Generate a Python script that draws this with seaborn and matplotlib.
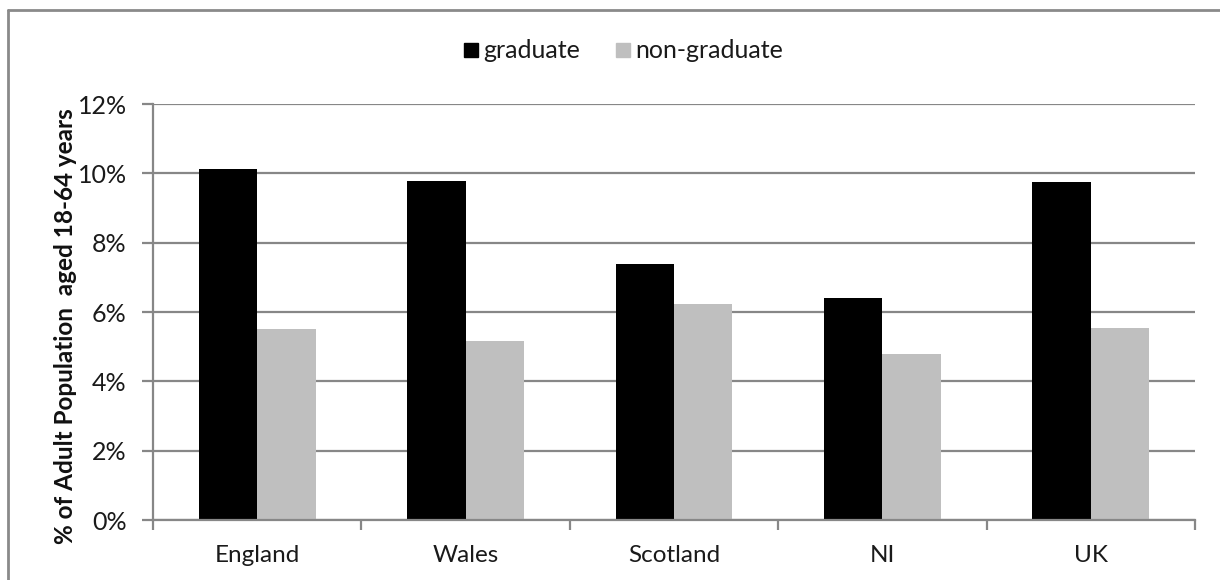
import pandas as pd
import seaborn as sns
import matplotlib.pyplot as plt
from matplotlib.lines import Line2D
from matplotlib.ticker import PercentFormatter, FixedLocator

# Data (% of adult population aged 18-64)
regions = ['England', 'Wales', 'Scotland', 'NI', 'UK']
graduate = [10.12, 9.79, 7.38, 6.39, 9.75]
non_graduate = [5.50, 5.16, 6.23, 4.79, 5.53]
groups = ['graduate', 'non-graduate']

df = pd.DataFrame({
    'region': regions * 2,
    'group': [groups[0]] * len(regions) + [groups[1]] * len(regions),
    'value': graduate + non_graduate,
})

sns.set_theme(style="white")
# Lato is close to Calibri in its proportions
plt.rcParams['font.family'] = ['Lato', 'DejaVu Sans']

grid_col = '#878787'
text_col = '#1a1a1a'
fig = plt.figure(figsize=(12.2, 5.8), dpi=100)
ax = fig.add_axes([153 / 1220, 1 - 520 / 580, (1195 - 153) / 1220, (520 - 104) / 580])

sns.barplot(data=df, x='region', y='value', hue='group', order=regions, hue_order=groups,
            palette=['#000000', '#bfbfbf'], width=0.56, gap=0, saturation=1,
            edgecolor='none', linewidth=0, legend=False, ax=ax)

ax.set_ylim(0, 12)
ax.set_xlim(-0.5, len(regions) - 0.5)
ax.set_yticks(range(0, 13, 2))
ax.yaxis.set_major_formatter(PercentFormatter(decimals=0))
ax.yaxis.grid(True, color=grid_col, linewidth=1.6)
ax.set_axisbelow(True)

# category boundary ticks on the x axis like Excel
ax.xaxis.set_minor_locator(FixedLocator([i - 0.5 for i in range(len(regions) + 1)]))
ax.tick_params(axis='x', which='major', length=0, pad=18, labelsize=17.5, labelcolor=text_col)
ax.tick_params(axis='x', which='minor', bottom=True, length=7, width=1.6, color=grid_col)
ax.tick_params(axis='y', left=True, length=8, width=1.6, color=grid_col, pad=11,
               labelsize=18, labelcolor=text_col)

for side in ['top', 'right']:
    ax.spines[side].set_visible(False)
for side in ['left', 'bottom']:
    ax.spines[side].set_color(grid_col)
    ax.spines[side].set_linewidth(1.6)

ax.set_xlabel('')
ax.set_ylabel('% of Adult Population  aged 18-64 years', fontsize=17.5, fontweight='bold',
              color='#111111')
ax.yaxis.set_label_coords(-76 / 1042, 0.465)

handles = [Line2D([], [], marker='s', linestyle='none', markersize=10.5,
                  markerfacecolor=c, markeredgecolor=c) for c in ['#000000', '#bfbfbf']]
fig.legend(handles, groups, loc='center', bbox_to_anchor=(622 / 1220, 1 - 51 / 580), ncol=2,
           frameon=False, fontsize=18, handletextpad=0.1, columnspacing=1.3,
           handlelength=0.8, labelcolor=text_col)

# outer chart border (top and left edges visible)
fig.add_artist(Line2D([8 / 1220, 8 / 1220], [0, 1 - 10 / 580], transform=fig.transFigure,
                      color='#8a8a8a', linewidth=2))
fig.add_artist(Line2D([8 / 1220, 1], [1 - 10 / 580, 1 - 10 / 580], transform=fig.transFigure,
                      color='#8a8a8a', linewidth=2))

fig.savefig('out.png', dpi=100)
